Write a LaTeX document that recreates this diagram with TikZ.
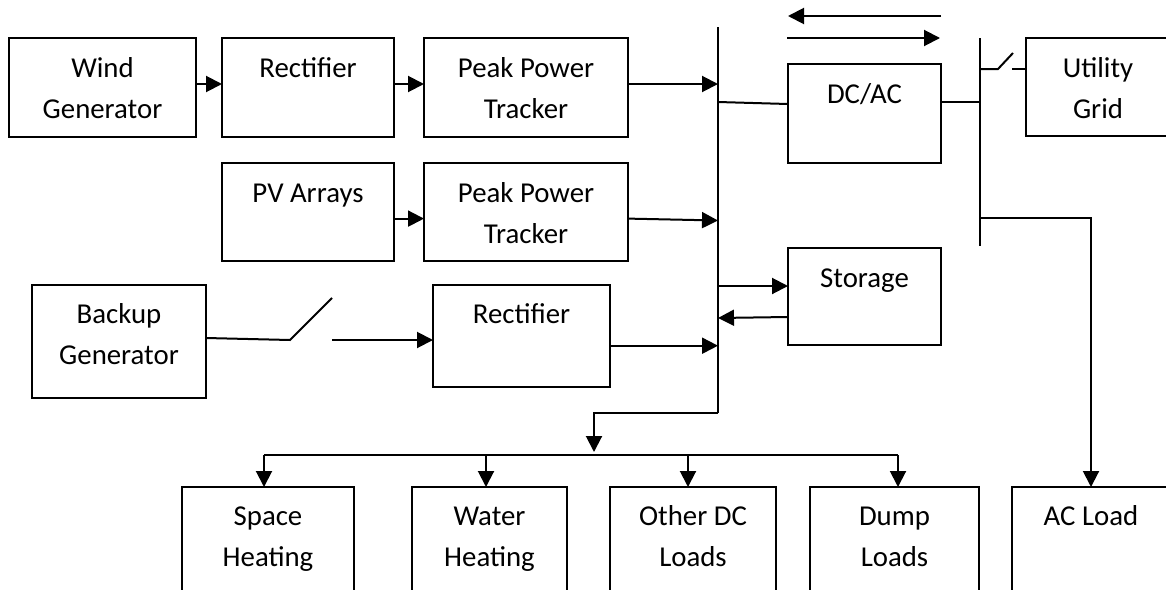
\documentclass[tikz,border=0pt]{standalone}
\usepackage{fontspec}
\setmainfont{Carlito}
\usetikzlibrary{arrows.meta,calc}
\begin{document}
\begin{tikzpicture}[x=1pt,y=-1pt,
  line width=2pt,
  box/.style={draw,line width=2pt,anchor=north west,inner sep=0pt,outer sep=0pt},
  txt/.style={anchor=base,inner sep=0pt,font=\fontsize{28.8pt}{34pt}\selectfont},
  arr/.style={-{Triangle[length=16pt,width=16pt]}}]
\useasboundingbox (0,0) rectangle (1166,589);
\clip (0,0) rectangle (1166,589);

% ---------- blocks ----------
\node[box,minimum width=187pt,minimum height=99pt] (wind) at (9,38) {};
\node[txt] (wind-a) at ($(wind.north)+(0,39)$) {Wind};
\node[txt] (wind-b) at ($(wind.north)+(0,80)$) {Generator};

\node[box,minimum width=172pt,minimum height=99pt] (rect1) at (222,38) {};
\node[txt] (rect1-a) at ($(rect1.north)+(0,39)$) {Rectifier};

\node[box,minimum width=204pt,minimum height=99pt] (ppt1) at (424,38) {};
\node[txt] (ppt1-a) at ($(ppt1.north)+(0,39)$) {Peak Power};
\node[txt] (ppt1-b) at ($(ppt1.north)+(0,80)$) {Tracker};

\node[box,minimum width=172pt,minimum height=98pt] (pv) at (222,163) {};
\node[txt] (pv-a) at ($(pv.north)+(0,39)$) {PV Arrays};

\node[box,minimum width=204pt,minimum height=98pt] (ppt2) at (424,163) {};
\node[txt] (ppt2-a) at ($(ppt2.north)+(0,39)$) {Peak Power};
\node[txt] (ppt2-b) at ($(ppt2.north)+(0,80)$) {Tracker};

\node[box,minimum width=174pt,minimum height=113pt] (backup) at (32,285) {};
\node[txt] (backup-a) at ($(backup.north)+(0,38)$) {Backup};
\node[txt] (backup-b) at ($(backup.north)+(0,79)$) {Generator};

\node[box,minimum width=177pt,minimum height=102pt] (rect2) at (433,285) {};
\node[txt] (rect2-a) at ($(rect2.north)+(0,38)$) {Rectifier};

\node[box,minimum width=153pt,minimum height=99pt] (dcac) at (788,64) {};
\node[txt] (dcac-a) at ($(dcac.north)+(0,39)$) {DC/AC};

\node[box,minimum width=153pt,minimum height=97pt] (storage) at (788,248) {};
\node[txt] (storage-a) at ($(storage.north)+(0,39)$) {Storage};

% the grid block runs past the right edge
\node[box,minimum width=180pt,minimum height=98pt] (grid) at (1026,38) {};
\node[txt] (grid-a) at (1098,77) {Utility};
\node[txt] (grid-b) at (1098,118) {Grid};

% loads (running off the lower edge)
\node[box,minimum width=172pt,minimum height=150pt] (space) at (182,487) {};
\node[txt] (space-a) at ($(space.north)+(0,38)$) {Space};
\node[txt] (space-b) at ($(space.north)+(0,79)$) {Heating};

\node[box,minimum width=155pt,minimum height=150pt] (water) at (412,487) {};
\node[txt] (water-a) at ($(water.north)+(0,38)$) {Water};
\node[txt] (water-b) at ($(water.north)+(0,79)$) {Heating};

\node[box,minimum width=166pt,minimum height=150pt] (other) at (610,487) {};
\node[txt] (other-a) at ($(other.north)+(0,38)$) {Other DC};
\node[txt] (other-b) at ($(other.north)+(0,79)$) {Loads};

\node[box,minimum width=169pt,minimum height=150pt] (dump) at (810,487) {};
\node[txt] (dump-a) at ($(dump.north)+(0,38)$) {Dump};
\node[txt] (dump-b) at ($(dump.north)+(0,79)$) {Loads};

\node[box,minimum width=200pt,minimum height=150pt] (acload) at (1012,487) {};
\node[txt] (acload-a) at (1091,525) {AC Load};

% ---------- buses ----------
\coordinate (dcTop) at (718,27);
\coordinate (dcBot) at (718,413);
\coordinate (acTop) at (980,38);
\coordinate (acBot) at (980,246);
\coordinate (acTap) at (980,218);
\draw (dcTop) -- (dcBot);
\draw (acTop) -- (acBot);

% ---------- wind chain ----------
\draw[arr] ([yshift=3.5pt]wind.east) -- ([yshift=3.5pt]rect1.west);
\draw[arr] ([yshift=3.5pt]rect1.east) -- ([yshift=3.5pt]ppt1.west);
\coordinate (p1) at ([yshift=3.5pt]ppt1.east);
\draw[arr] (p1) -- (p1 -| dcTop);

% ---------- PV chain ----------
\draw[arr] ([yshift=-6.6pt]pv.east) -- ([yshift=-6.6pt]ppt2.west);
\coordinate (p2) at ([yshift=-6.6pt]ppt2.east);
\coordinate (p2b) at ([yshift=-8.5pt]ppt2.east);
\draw[arr] (p2) -- (p2b -| dcTop);

% ---------- backup generator with switch ----------
\coordinate (bg) at ([yshift=3.5pt]backup.east);
\coordinate (swA) at (290,340);
\coordinate (swB) at (332,298);
\coordinate (swC) at (332,340);
\draw (bg) -- (swA) -- (swB);
\draw[arr] (swC) -- (swC -| rect2.west);
\coordinate (r2) at ([yshift=-9.7pt]rect2.east);
\draw[arr] (r2) -- (r2 -| dcTop);

% ---------- inverter ----------
\coordinate (ia) at ([yshift=11.5pt]dcac.west);
\draw (ia -| dcTop) -- ([yshift=9.5pt]dcac.west);
\coordinate (ib) at ([yshift=11.5pt]dcac.east);
\draw (ib) -- (ib -| acTop);
\draw[arr] ([yshift=48pt]dcac.north east) -- ([yshift=48pt]dcac.north west);
\draw[arr] ([yshift=26pt,xshift=-1pt]dcac.north west) -- ([yshift=26pt,xshift=-1pt]dcac.north east);

% ---------- storage ----------
\coordinate (sa) at ([yshift=10.5pt]storage.west);
\draw[arr] (sa -| dcTop) -- (sa);
\coordinate (sb) at ([yshift=-20.5pt]storage.west);
\draw[arr] (sb) -- ([yshift=-1pt]sb -| dcTop);

% ---------- utility grid with switch ----------
\coordinate (g) at ([yshift=18pt]grid.west);
\coordinate (gA) at (998,69);
\coordinate (gB) at (1013,53);
\coordinate (gC) at (1012,69);
\draw (g -| acTop) -- (gA) -- (gB);
\draw (gC) -- (g);

% ---------- AC load ----------
\draw[arr] (acTap) -| (acload-a |- acload.north);

% ---------- DC load distribution ----------
\coordinate (dMid) at (594,455);
\coordinate (dL) at (264,455);
\coordinate (d2) at (486,455);
\coordinate (d3) at (688,455);
\coordinate (dR) at (898,455);
\draw[arr] (dcBot) -| ([yshift=3pt]dMid);
\draw (dL) -- (dR);
\draw[arr] (dL) -- (dL |- space.north);
\draw[arr] (d2) -- (d2 |- water.north);
\draw[arr] (d3) -- (d3 |- other.north);
\draw[arr] (dR) -- (dR |- dump.north);
\end{tikzpicture}
\end{document}
